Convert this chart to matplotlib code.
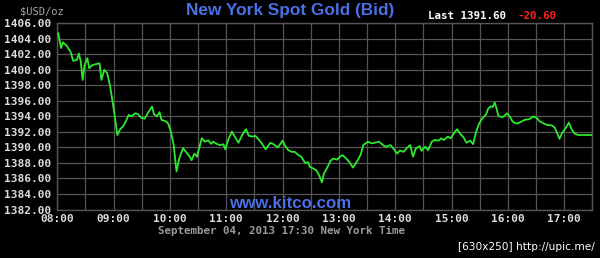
import matplotlib
matplotlib.use("Agg")
import matplotlib.pyplot as plt
from matplotlib.ticker import FixedLocator, FuncFormatter

# minutes after 08:00 New York time
minutes = [1, 4, 6, 10, 14, 17, 21, 23, 25, 27, 29, 32, 34, 37, 40, 45, 47, 50, 53, 56,
           60, 64, 67, 70, 73, 76, 79, 83, 86, 89, 93, 97, 101, 103, 106, 109, 111, 116, 118, 121,
           124, 127, 130, 134, 138, 141, 143, 146, 149, 150, 154, 157, 161, 164, 166, 170, 173, 177, 179, 182,
           186, 190, 193, 197, 201, 204, 208, 211, 215, 218, 222, 227, 230, 235, 240, 243, 246, 250, 253, 257,
           260, 264, 267, 269, 273, 276, 279, 282, 284, 287, 291, 294, 298, 301, 304, 308, 311, 315, 319, 323,
           326, 331, 335, 338, 343, 347, 350, 355, 358, 362, 365, 369, 372, 376, 379, 382, 386, 388, 392, 395,
           399, 402, 406, 409, 412, 416, 419, 423, 426, 429, 433, 436, 440, 443, 446, 449, 452, 457, 459, 462,
           464, 466, 468, 470, 474, 476, 479, 482, 485, 488, 491, 495, 498, 503, 507, 511, 514, 518, 522, 527,
           530, 532, 535, 538, 542, 545, 548, 551, 555, 569]
bid = [1404.70, 1402.80, 1403.55, 1403.10, 1402.35, 1401.15, 1401.30, 1402.10, 1401.05, 1398.70,
       1400.60, 1401.50, 1400.20, 1400.60, 1400.70, 1400.85, 1398.70, 1400.00, 1399.60, 1398.06,
       1395.06, 1391.60, 1392.35, 1392.70, 1393.35, 1394.20, 1394.00, 1394.40, 1394.30, 1393.85,
       1393.70, 1394.55, 1395.27, 1394.30, 1394.00, 1394.55, 1393.55, 1393.35, 1393.10, 1392.05,
       1390.33, 1386.90, 1388.60, 1389.90, 1389.27, 1388.83, 1388.35, 1389.20, 1388.80, 1389.40,
       1391.20, 1390.75, 1390.90, 1390.45, 1390.75, 1390.45, 1390.30, 1390.40, 1389.75, 1390.95,
       1392.05, 1391.20, 1390.60, 1391.60, 1392.35, 1391.50, 1391.40, 1391.50, 1390.95, 1390.50,
       1389.75, 1390.60, 1390.45, 1390.00, 1390.87, 1390.17, 1389.65, 1389.43, 1389.43, 1389.00,
       1388.80, 1388.00, 1388.10, 1387.50, 1387.26, 1387.05, 1386.40, 1385.50, 1386.60, 1387.26,
       1388.26, 1388.56, 1388.43, 1388.80, 1389.00, 1388.56, 1388.13, 1387.40, 1388.13, 1389.00,
       1390.30, 1390.74, 1390.52, 1390.60, 1390.74, 1390.30, 1390.09, 1390.30, 1389.87, 1389.20,
       1389.60, 1389.43, 1389.87, 1390.30, 1388.80, 1389.87, 1390.17, 1389.56, 1390.09, 1389.65,
       1390.74, 1390.96, 1390.87, 1391.17, 1390.96, 1391.40, 1391.17, 1391.90, 1392.35, 1391.80,
       1391.26, 1390.60, 1390.87, 1390.43, 1391.90, 1392.96, 1393.60, 1394.30, 1395.00, 1395.30,
       1395.20, 1395.80, 1395.00, 1394.04, 1393.90, 1394.04, 1394.40, 1394.00, 1393.36, 1393.10,
       1393.13, 1393.36, 1393.56, 1393.64, 1394.00, 1393.78, 1393.36, 1393.10, 1392.90, 1392.83,
       1392.56, 1392.00, 1391.10, 1391.90, 1392.56, 1393.20, 1392.35, 1391.80, 1391.60, 1391.60]

y_ticks = [1382, 1384, 1386, 1388, 1390, 1392, 1394, 1396, 1398, 1400, 1402, 1404, 1406]
x_tick_labels = ["08:00", "09:00", "10:00", "11:00", "12:00", "13:00", "14:00", "15:00", "16:00", "17:00"]

W, H = 600, 258
fig = plt.figure(figsize=(W / 100, H / 100), dpi=100, facecolor="black")

def fx(px):
    return px / W

def fy(py):
    return 1 - py / H

ax = fig.add_axes([fx(57.3), fy(209.5), fx(592.3) - fx(57.3), fy(23.3) - fy(209.5)])
ax.set_facecolor("black")
grid_c = "#555555"
for s in ax.spines.values():
    s.set_color(grid_c)
    s.set_linewidth(1)

ax.plot(minutes, bid, color="#2ee82e", lw=1.3, zorder=3)

ax.set_xlim(0, 570)
ax.set_ylim(1382, 1406)
ax.xaxis.set_major_locator(FixedLocator([60 * i for i in range(len(x_tick_labels))]))
ax.xaxis.set_minor_locator(FixedLocator([30 + 60 * i for i in range(len(x_tick_labels))]))
ax.xaxis.set_major_formatter(FuncFormatter(lambda v, p: x_tick_labels[int(round(v / 60))]))
ax.yaxis.set_major_locator(FixedLocator(y_ticks))
ax.yaxis.set_major_formatter(FuncFormatter(lambda v, p: f"{v:.2f}"))
ax.grid(True, which="both", color=grid_c, lw=0.9)
ax.tick_params(which="both", length=0, colors="#dcdcdc", labelsize=8)
ax.tick_params(axis="y", pad=4)
ax.tick_params(axis="x", pad=3)
for lab in ax.get_xticklabels() + ax.get_yticklabels():
    lab.set_family("DejaVu Sans Mono")
    lab.set_fontweight("bold")

mono = "DejaVu Sans Mono"
fig.text(fx(42), fy(11), "$USD/oz", color="#a8a8a8", fontsize=7.5, family=mono,
         ha="center", va="center")
fig.text(fx(290), fy(11), "New York Spot Gold (Bid)", color="#4a6fe6", fontsize=12.4,
         family="Liberation Sans", fontweight="bold", ha="center", va="center")
fig.text(fx(428), fy(16), "Last 1391.60", color="white", fontsize=7.8, family=mono,
         fontweight="bold", ha="left", va="center")
fig.text(fx(517), fy(16), "-20.60", color="#ff2020", fontsize=7.8, family=mono,
         fontweight="bold", ha="left", va="center")
ax.text(fx(290), fy(203), "www.kitco.com", color="#4a6fe6", fontsize=12.2,
        family="Liberation Sans", fontweight="bold", ha="center", va="center",
        transform=fig.transFigure, zorder=4)
fig.text(fx(281), fy(231), "September 04, 2013 17:30 New York Time", color="#9a9a9a",
         fontsize=7.8, family=mono, fontweight="bold", ha="center", va="center")
fig.text(fx(595), fy(247), "[630x250] http://upic.me/", color="white", fontsize=7.6,
         family="DejaVu Sans", ha="right", va="center")

fig.savefig("out.png", dpi=100, facecolor="black")
